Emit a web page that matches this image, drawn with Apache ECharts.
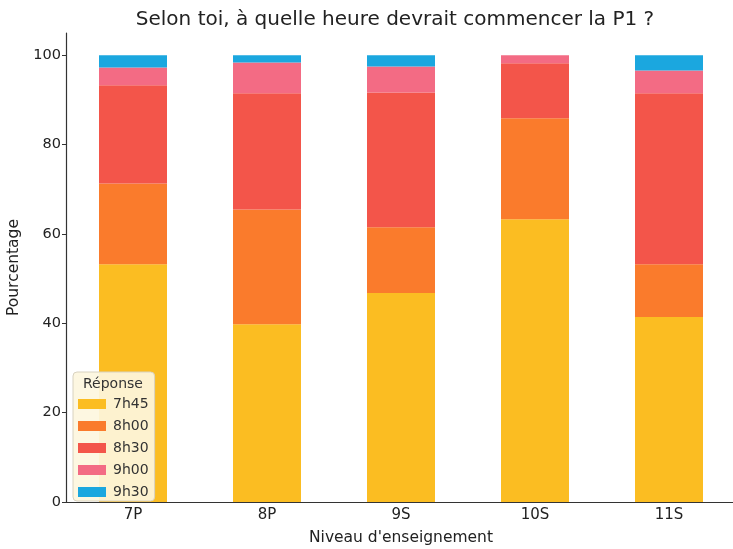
<!DOCTYPE html>
<html>
<head>
<meta charset="utf-8">
<script src="https://cdn.jsdelivr.net/npm/echarts@6/dist/echarts.min.js"></script>
<style>
  html, body { margin: 0; padding: 0; background: #fff; }
  #chart { width: 733px; height: 549px; }
</style>
</head>
<body>
<div id="chart"></div>
<script>
// niveaux et réponses (en %)
var niveaux = ['7P', '8P', '9S', '10S', '11S'];
var reponses = ['7h45', '8h00', '8h30', '9h00', '9h30'];
var v7h45 = [53.2, 39.8, 46.8, 63.3, 41.4];
var v8h00 = [18.1, 25.7, 14.7, 22.6, 11.8];
var v8h30 = [22.0, 26.0, 30.2, 12.3, 38.3];
var v9h00 = [4.0, 6.9, 5.8, 1.8, 5.1];
var v9h30 = [2.7, 1.6, 2.5, 0, 3.4];
var yTicks = [0, 20, 40, 60, 80, 100];

var couleurs = ['#fbbd22', '#fa7b2c', '#f3554a', '#f36b84', '#1ba7df'];
var valeurs = [v7h45, v8h00, v8h30, v9h00, v9h30];

var chart = echarts.init(document.getElementById('chart'));

var series = reponses.map(function (r, i) {
  return {
    name: r,
    type: 'bar',
    stack: 'total',
    barWidth: 68,
    itemStyle: { color: couleurs[i] },
    data: valeurs[i]
  };
});

var font = 'DejaVu Sans';

var option = {
  animation: false,
  textStyle: { fontFamily: font },
  title: {
    text: 'Selon toi, à quelle heure devrait commencer la P1 ?',
    left: 390,
    textAlign: 'center',
    top: 5,
    textStyle: { fontFamily: font, fontSize: 20, fontWeight: 'normal', color: '#222' }
  },
  grid: { left: 66, right: -3, top: 33, bottom: 47, outerBoundsMode: 'none', containLabel: false },
  legend: {
    orient: 'vertical',
    left: 73,
    top: 372,
    data: reponses,
    itemWidth: 28,
    itemHeight: 10,
    itemGap: 8,
    padding: [25, 6, 2, 5],
    backgroundColor: 'rgba(253,246,222,0.92)',
    borderColor: '#d8d2c0',
    borderWidth: 1,
    borderRadius: 4,
    icon: 'rect',
    textStyle: { fontFamily: font, fontSize: 14, color: '#333', padding: [0, 0, 0, 2] }
  },
  graphic: [{
    type: 'text',
    left: 83,
    top: 377,
    z: 100,
    style: { text: 'Réponse', fontFamily: font, fontSize: 14, fill: '#333' }
  }],
  xAxis: {
    type: 'category',
    data: niveaux,
    name: "Niveau d'enseignement",
    nameLocation: 'middle',
    nameGap: 28,
    nameTextStyle: { fontFamily: font, fontSize: 15.5, color: '#222' },
    axisLine: { lineStyle: { color: '#333', width: 1.2 } },
    axisTick: { alignWithLabel: true, length: 4, lineStyle: { color: '#333' } },
    axisLabel: { fontFamily: font, fontSize: 15, color: '#222', margin: 6 }
  },
  yAxis: {
    type: 'value',
    min: 0,
    max: 105,
    name: 'Pourcentage',
    nameLocation: 'middle',
    nameGap: 34,
    nameTextStyle: { fontFamily: font, fontSize: 15.5, color: '#222' },
    axisLine: { show: true, lineStyle: { color: '#333', width: 1.2 } },
    axisTick: { show: true, length: 4, customValues: yTicks, lineStyle: { color: '#333' } },
    axisLabel: { fontFamily: font, fontSize: 14.5, color: '#222', margin: 5, customValues: yTicks },
    splitLine: { show: false }
  },
  series: series
};

chart.setOption(option);
</script>
</body>
</html>
